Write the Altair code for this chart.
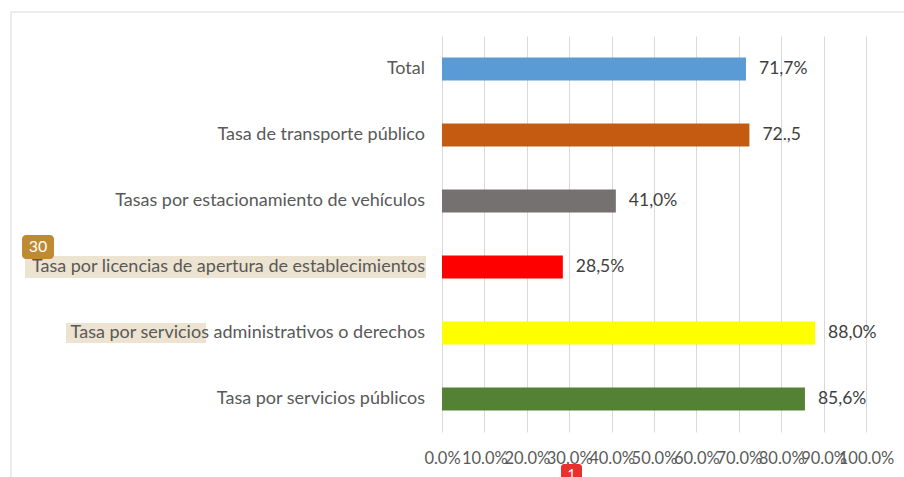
import altair as alt
import pandas as pd

categories = [
    "Total",
    "Tasa de transporte público",
    "Tasas por estacionamiento de vehículos",
    "Tasa por licencias de apertura de establecimientos",
    "Tasa por servicios administrativos o derechos",
    "Tasa por servicios públicos",
]
values = [71.7, 72.5, 41.0, 28.5, 88.0, 85.6]
value_labels = ["71,7%", "72.,5", "41,0%", "28,5%", "88,0%", "85,6%"]
bar_colors = ["#5B9BD5", "#C55A11", "#767171", "#FF0000", "#FFFF00", "#548235"]
x_ticks = [0, 10, 20, 30, 40, 50, 60, 70, 80, 90, 100]

df = pd.DataFrame({"cat": categories, "val": values, "lab": value_labels})

FONT = "Lato"
y_enc = alt.Y("cat:N", sort=categories, axis=None,
              scale=alt.Scale(paddingInner=0.65, paddingOuter=0.325))
x_scale = alt.Scale(domain=[0, 100], nice=False, zero=True)

base = alt.Chart(df)

frame = base.mark_rect(fill=None, stroke="#D9D9D9", strokeWidth=1).encode(
    x=alt.value(-431), x2=alt.value(520), y=alt.value(-24), y2=alt.value(520)
).transform_filter(alt.datum.cat == "Total")

hl1 = base.mark_bar(color="#EDE3D1", size=22).encode(
    y=y_enc, x=alt.value(-417), x2=alt.value(-16)
).transform_filter(alt.datum.cat == categories[3])

hl2 = base.mark_bar(color="#EDE3D1", size=20).encode(
    y=y_enc, x=alt.value(-376), x2=alt.value(-236)
).transform_filter(alt.datum.cat == categories[4])

cat_text = base.mark_text(align="right", baseline="middle", font=FONT,
                          fontSize=18, color="#595959").encode(
    y=y_enc, x=alt.value(-17), text="cat:N"
)

bars = base.mark_bar(size=23).encode(
    y=y_enc,
    x=alt.X("val:Q", scale=x_scale,
            axis=alt.Axis(values=x_ticks, title=None, domain=False, ticks=False,
                          grid=True, gridColor="#D9D9D9", gridWidth=1,
                          labelExpr="format(datum.value, '.1f') + '%'",
                          labelFont=FONT, labelFontSize=16.5, labelColor="#595959",
                          labelPadding=18, labelOverlap=False, labelFlush=False)),
    color=alt.Color("cat:N", scale=alt.Scale(domain=categories, range=bar_colors), legend=None),
)

val_text = base.mark_text(align="left", baseline="middle", dx=13, font=FONT,
                          fontSize=17.5, color="#404040").encode(
    y=y_enc, x=alt.X("val:Q", scale=x_scale), text="lab:N"
)

badge30 = base.mark_rect(color="#BE8A32", cornerRadius=4).encode(
    x=alt.value(-420), x2=alt.value(-388), y=alt.value(199), y2=alt.value(223)
).transform_filter(alt.datum.cat == "Total")
badge30_t = base.mark_text(text="30", color="white", font=FONT, fontSize=16,
                           align="center", baseline="middle").encode(
    x=alt.value(-404), y=alt.value(211)
).transform_filter(alt.datum.cat == "Total")

badge1 = base.mark_rect(color="#E8302E", cornerRadius=3).encode(
    x=alt.value(119), x2=alt.value(140), y=alt.value(428), y2=alt.value(450)
).transform_filter(alt.datum.cat == "Total")
badge1_t = base.mark_text(text="1", color="white", font=FONT, fontSize=14,
                          align="center", baseline="middle").encode(
    x=alt.value(129.5), y=alt.value(439)
).transform_filter(alt.datum.cat == "Total")

chart = alt.layer(frame, hl1, hl2, cat_text, bars, val_text,
                  badge30, badge30_t, badge1, badge1_t).properties(
    width=424, height=396,
    padding={"left": 442, "top": 36, "right": 38, "bottom": 45},
    autosize=alt.AutoSizeParams(type="none"),
    background="white",
).configure_view(stroke=None)

chart.save("out.html", embed_options={"renderer": "svg", "actions": False})
